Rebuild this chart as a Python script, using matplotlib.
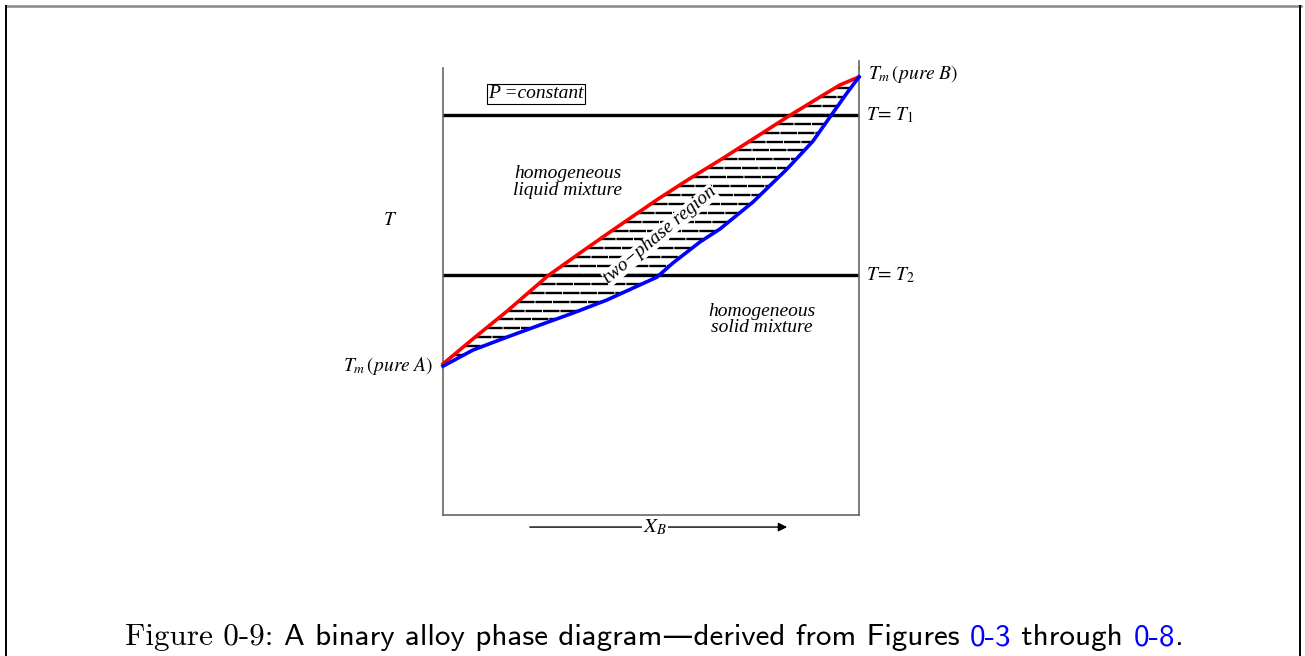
import numpy as np
import matplotlib.pyplot as plt
from matplotlib.lines import Line2D

plt.rcParams['mathtext.fontset'] = 'stix'

# liquidus (red) and solidus (blue): composition X_B vs temperature
liq_x = [0.0, 0.072, 0.154, 0.252, 0.329, 0.409, 0.514, 0.587, 0.666, 0.745, 0.827, 0.906, 0.954, 1.0]
liq_t = [0.338, 0.394, 0.456, 0.535, 0.586, 0.638, 0.705, 0.749, 0.794, 0.841, 0.890, 0.935, 0.962, 0.98]
sol_x = [0.0, 0.072, 0.154, 0.233, 0.313, 0.394, 0.474, 0.514, 0.553, 0.618, 0.666, 0.745,
         0.827, 0.889, 0.930, 0.971, 1.0]
sol_t = [0.333, 0.369, 0.398, 0.425, 0.452, 0.481, 0.515, 0.532, 0.564, 0.611, 0.640, 0.700,
         0.774, 0.836, 0.890, 0.944, 0.98]

T1 = 0.895
T2 = 0.537
n_steps = 18  # hatch lines between T2 and T1

fig = plt.figure(figsize=(13.05, 6.56), dpi=100)
ax = fig.add_axes([443 / 1305, 1 - 515 / 656, 416 / 1305, 447 / 656])
ax.set_xlim(0, 1)
ax.set_ylim(0, 1)
ax.set_xticks([])
ax.set_yticks([])
ax.spines['top'].set_visible(False)
for s in ['left', 'right', 'bottom']:
    ax.spines[s].set_color('#666666')
    ax.spines[s].set_linewidth(1.2)
ax.plot([1, 1], [1, 1.015], color='#666666', lw=1.2, clip_on=False)

# hatching in two-phase region
step = (T1 - T2) / n_steps
k0 = int(np.ceil((min(liq_t) - T2) / step))
k1 = int(np.floor((max(liq_t) - T2) / step))
for k in range(k0, k1 + 1):
    t = T2 + k * step
    xa = np.interp(t, liq_t, liq_x)
    xb = np.interp(t, sol_t, sol_x)
    if xb - xa > 0.01:
        ax.plot([xa, xb], [t, t], color='black', lw=1.7,
                linestyle=(0, (7, 0.4)), solid_capstyle='butt')

ax.axhline(T1, color='black', lw=2.4)
ax.axhline(T2, color='black', lw=2.4)

ax.plot(liq_x, liq_t, color='#ff0000', lw=2.6, clip_on=False, zorder=5)
ax.plot(sol_x, sol_t, color='#0000ff', lw=2.6, clip_on=False, zorder=5)

tfont = dict(family='Liberation Serif', style='italic', fontsize=14)
ax.text(0.224, 0.942, 'P =constant', ha='center', va='center',
        bbox=dict(boxstyle='square,pad=0.08', fc='white', ec='black', lw=0.8), **tfont)
ax.text(0.300, 0.745, 'homogeneous\nliquid mixture', ha='center', va='center',
        linespacing=0.95, **tfont)
ax.text(0.767, 0.438, 'homogeneous\nsolid mixture', ha='center', va='center',
        linespacing=0.95, **tfont)
ax.text(0.522, 0.626, 'two\u2212phase region', ha='center', va='center', rotation=40,
        rotation_mode='anchor', zorder=6,
        bbox=dict(boxstyle='square,pad=0.0', fc='white', ec='none'), **tfont)

ax.text(-0.127, 0.662, '$T$', ha='center', va='center', fontsize=14)
ax.text(-0.024, 0.333, r'$T_m\,(pure\ A)$', ha='right', va='center', fontsize=14)
ax.text(1.022, 0.987, r'$T_m\,(pure\ B)$', ha='left', va='center', fontsize=14)
ax.text(1.017, T1, r'$T\!=\,T_1$', ha='left', va='center', fontsize=14)
ax.text(1.017, T2, r'$T\!=\,T_2$', ha='left', va='center', fontsize=14)

# X_B arrow below the axis
ax.annotate('', xy=(0.834, -0.027), xytext=(0.202, -0.027), xycoords='axes fraction',
            arrowprops=dict(arrowstyle='-|>', color='black', lw=1.0, mutation_scale=13))
ax.text(0.51, -0.027, '$X_B$', ha='center', va='center', fontsize=15,
        transform=ax.transAxes, bbox=dict(boxstyle='square,pad=0.05', fc='white', ec='none'))

# page frame
fig.add_artist(Line2D([6 / 1305, 1301 / 1305], [1 - 6 / 656, 1 - 6 / 656], color='#888888', lw=1.8))
fig.add_artist(Line2D([6 / 1305, 6 / 1305], [0, 1 - 6 / 656], color='black', lw=1.4))
fig.add_artist(Line2D([1300 / 1305, 1300 / 1305], [0, 1 - 6 / 656], color='black', lw=1.4))

# caption
cap = fig.text(125 / 1305, 1 - 645 / 656, 'Figure 0-9: ', family='cmr10', fontsize=22.4, va='baseline')
parts = [('A binary alloy phase diagram\u2014derived from Figures ', 'black'),
         ('0-3', '#0000ff'), (' through ', 'black'), ('0-8', '#0000ff'), ('.', 'black')]
prev = cap
for txt, col in parts:
    prev = ax.annotate(txt, xy=(1, 0), xycoords=prev, va='bottom', ha='left',
                       family=['cmss10', 'DejaVu Sans'], fontsize=22.4, color=col,
                       annotation_clip=False)

fig.savefig('out.png', dpi=100)
